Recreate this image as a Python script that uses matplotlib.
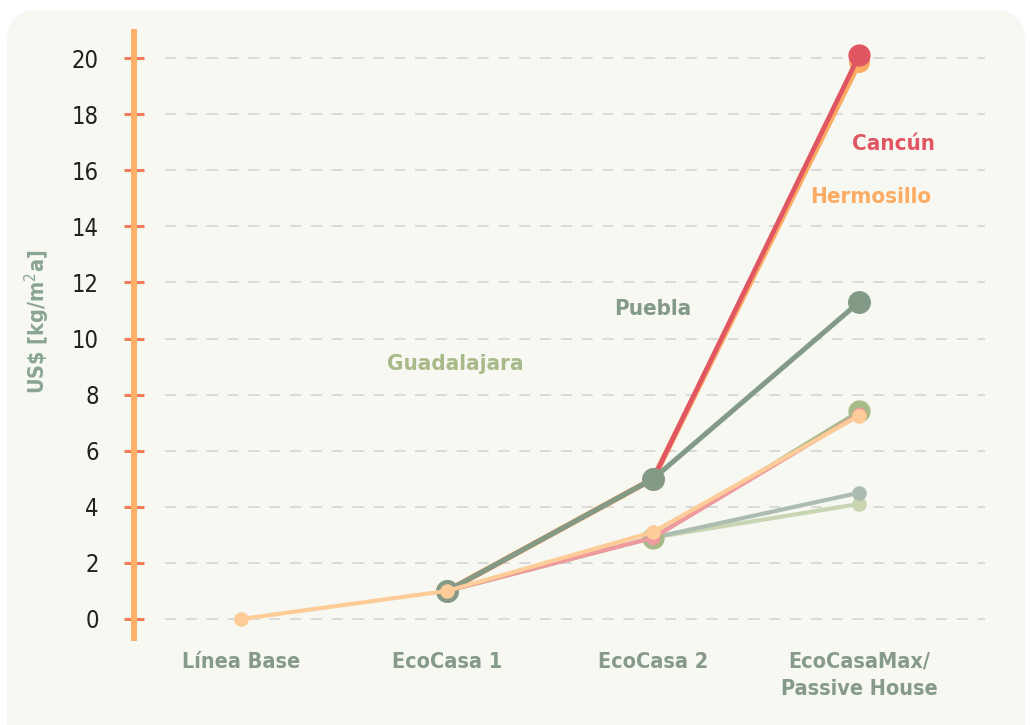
import matplotlib
matplotlib.use("Agg")
import matplotlib.pyplot as plt
from matplotlib.patches import FancyBboxPatch
import numpy as np

plt.rcParams['lines.scale_dashes'] = False
plt.rcParams['font.family'] = ['DejaVu Sans']
plt.rcParams['font.stretch'] = 'condensed'

# Categories on the x axis
categories = ["Línea Base", "EcoCasa 1", "EcoCasa 2", "EcoCasaMax/\nPassive House"]

# Series values (None = no point at that stage)
cancun = [None, 1.0, 5.0, 20.1]
hermosillo = [None, 1.0, 5.0, 19.85]
puebla = [None, 1.0, 5.0, 11.3]
guadalajara = [None, 1.0, 2.9, 7.4]
pink_series = [None, 1.0, 2.9, 7.3]
peach_series = [0.0, 1.0, 3.1, 7.25]
gray_series = [None, None, 2.9, 4.5]
sage_series = [None, None, 2.9, 4.1]

yticks = [0, 2, 4, 6, 8, 10, 12, 14, 16, 18, 20]

C_RED = "#e05663"
C_ORANGE = "#fcab62"
C_PUEBLA = "#829a86"
C_OLIVE = "#a8ba88"
C_PINK = "#ef9a9e"
C_PEACH = "#fdcc98"
C_GRAY = "#adbcb0"
C_SAGE = "#c9d5b0"
C_SPINE = "#fdb068"
C_TICK = "#f07c5c"
BG = "#f6f8f1"

fig = plt.figure(figsize=(10.30, 7.25), dpi=100)
fig.patch.set_facecolor("white")

# rounded background panel
panel = FancyBboxPatch((7 / 1030, -0.05), (1025 - 7) / 1030, (725 - 10) / 725 + 0.05,
                       boxstyle="round,pad=0,rounding_size=0.03",
                       transform=fig.transFigure, facecolor=BG, edgecolor="none",
                       mutation_aspect=1030 / 725)
panel.set_zorder(-10)
fig.add_artist(panel)

ax = fig.add_axes([134 / 1030, (725 - 638) / 725, (985 - 134) / 1030, (638 - 32) / 725])
ax.set_facecolor("none")
ax.set_zorder(1)

x = np.arange(len(categories))


def plot_series(vals, color, lw, ms, z):
    xs = [xi for xi, v in zip(x, vals) if v is not None]
    ys = [v for v in vals if v is not None]
    ax.plot(xs, ys, color=color, lw=lw, marker="o", ms=ms, mfc=color, mec=color,
            solid_capstyle="round", zorder=z)


plot_series(sage_series, C_SAGE, 3.0, 9.5, 3.0)
plot_series(gray_series, C_GRAY, 3.0, 9.5, 3.1)
plot_series(guadalajara, C_OLIVE, 3.0, 15, 3.2)
plot_series(pink_series, C_PINK, 3.0, 9, 3.3)
plot_series(hermosillo, C_ORANGE, 4.2, 14, 3.4)
plot_series(cancun, C_RED, 3.4, 15, 3.5)
plot_series(puebla, C_PUEBLA, 3.6, 15.5, 3.6)
plot_series(peach_series, C_PEACH, 3.0, 9.5, 3.7)

# dashed horizontal grid
for yv in yticks:
    ax.plot([-0.371, 3.611], [yv, yv], color="#d2d2d2", lw=1.1,
            dashes=(8, 7), zorder=1)

ax.set_xlim(-0.522, 3.611)
ax.set_ylim(-0.68, 20.93)

for side in ["top", "right", "bottom"]:
    ax.spines[side].set_visible(False)
ax.spines["left"].set_color(C_SPINE)
ax.spines["left"].set_linewidth(4.3)
ax.spines["left"].set_zorder(5)

ax.set_yticks(yticks)
ax.set_yticklabels([str(v) for v in yticks])
ax.tick_params(axis="y", direction="inout", length=14.5, width=2.2, color=C_TICK,
               pad=18, labelsize=17, labelcolor="#222222")

ax.set_xticks(x)
ax.set_xticklabels(categories, fontsize=15.5, color="#869a8a", fontweight="bold",
                   linespacing=1.45)
ax.tick_params(axis="x", length=0, pad=10)

ax.set_ylabel("US\\$ [kg/m$^2$a]", fontsize=15.5, color="#8aa593", fontweight="bold")
ax.yaxis.set_label_coords(-0.096, 0.521)

# series names
label_kw = dict(fontsize=16, fontweight="bold", ha="center", va="center")
ax.text(3.165, 16.93, "Cancún", color=C_RED, **label_kw)
ax.text(3.058, 15.04, "Hermosillo", color=C_ORANGE, **label_kw)
ax.text(1.999, 11.05, "Puebla", color=C_PUEBLA, **label_kw)
ax.text(1.037, 9.09, "Guadalajara", color=C_OLIVE, **label_kw)

fig.savefig("out.png", dpi=100, facecolor=fig.get_facecolor())
